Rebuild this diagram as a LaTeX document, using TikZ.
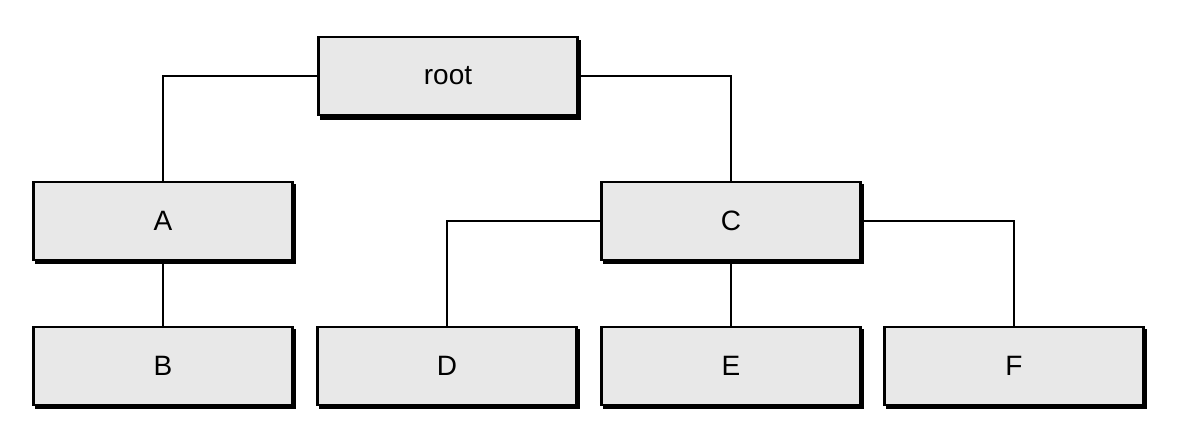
\documentclass[tikz,border=0pt]{standalone}
\usepackage{fontspec}
\setmainfont{Liberation Sans}
\begin{document}
\begin{tikzpicture}[x=0.75pt,y=-0.75pt,
  box/.style={draw=black,fill=black!9,line width=2.2pt,minimum width=259*0.75pt,minimum height=78*0.75pt,inner sep=0pt,font=\fontsize{21}{25}\selectfont,
    append after command={}},
  sh/.style={fill=black},
  ln/.style={line width=2.2pt}]
\useasboundingbox (0,0) rectangle (1180,432);
\foreach \x/\y in {448/77,163/221,731/221,163/366,447/366,731/366,1014/366}
  \fill (\x-128,\y-37) rectangle (\x+133,\y+43);
\node[box] (root) at (448,76) {root};
\node[box] (A) at (163,221) {A};
\node[box] (C) at (731,221) {C};
\node[box] (B) at (163,366) {B};
\node[box] (D) at (447,366) {D};
\node[box] (E) at (731,366) {E};
\node[box] (F) at (1014,366) {F};
\draw[ln] (root.west) -| (A.north);
\draw[ln] (root.east) -| (C.north);
\draw[ln] (A) -- (B);
\draw[ln] (C.west) -| (D.north);
\draw[ln] (C.east) -| (F.north);
\draw[ln] (C) -- (E);
\end{tikzpicture}
\end{document}
